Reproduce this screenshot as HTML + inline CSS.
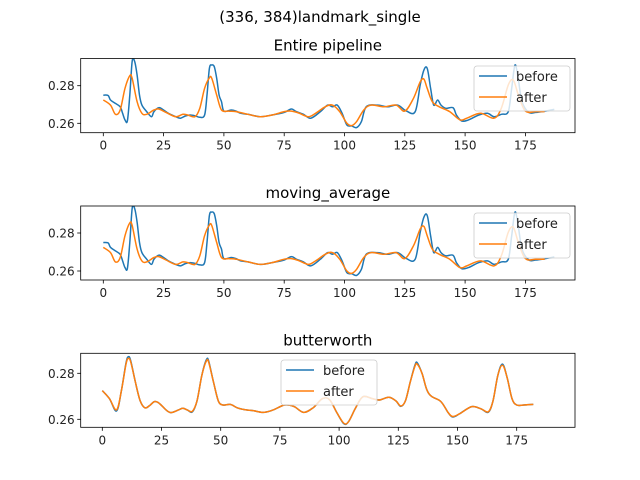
<!DOCTYPE html>
<html><head><meta charset="utf-8"><style>
body{margin:0;background:#fff}
svg{display:block;font-family:"DejaVu Sans","Liberation Sans",sans-serif}
</style></head><body>
<svg id="fig" width="640" height="480" viewBox="0 0 640 480">
<rect width="640" height="480" fill="#fff"/>
<text x="320" y="22" font-size="15" text-anchor="middle">(336, 384)landmark_single</text>
</svg>
<script>
// Entire pipeline / moving_average data
const beforeX = [0,2,3,5,7,8,9,10,11,12,13,14,15,16,18,20,21,23,25,27,30,32,34,36,38,40,42,43,44,45,46,47,48,49,50,53,55,57,60,65,70,75,78,80,83,86,90,93,95,97,99,101,103,105,107,109,113.6,117.9,122,125.7,129.3,131.4,132.9,134.3,135.7,137,138.6,140,142,145,146.4,148.6,151.4,155.7,159.3,162,165,167.9,169.3,170.7,172,173.6,176.4,179.3,182,187];
const beforeY = [.2750,.2748,.2724,.2706,.2688,.2653,.2618,.2614,.2750,.2931,.2928,.2857,.2750,.2697,.2662,.2635,.2662,.2683,.2671,.2653,.2635,.2627,.2639,.2644,.2640,.2632,.2644,.2750,.2892,.2910,.2901,.2839,.2750,.2715,.2665,.2671,.2665,.2653,.2648,.2635,.2644,.2658,.2676,.2662,.2648,.2627,.2662,.2697,.2688,.2697,.2653,.2591,.2586,.2577,.2609,.2688,.2697,.2688,.2697,.2665,.2662,.2804,.2883,.2892,.2786,.2697,.2724,.2697,.2680,.2683,.2644,.2612,.2618,.2644,.2653,.2635,.2648,.2662,.2786,.2910,.2839,.2715,.2658,.2658,.2662,.2674];
const afterX = [0,3,5,7,9,11,12,14,16,18,21,23,26,30,33,35,38,40,42,44,45,47,49,52,55,60,65,70,75,78,81,85,88,92,95,98,101,103,105,108,111,116.4,121.4,125,128.6,131.4,132.9,134.3,136.4,139.3,143.6,147.9,150.7,156.4,162,165,167.9,170,172.1,175,179.3,183];
const afterY = [.2724,.2697,.2648,.2671,.2786,.2853,.2839,.2715,.2653,.2648,.2671,.2676,.2658,.2635,.2648,.2644,.2635,.2680,.2786,.2842,.2839,.2750,.2671,.2665,.2662,.2648,.2635,.2644,.2662,.2665,.2655,.2635,.2653,.2688,.2697,.2662,.2600,.2588,.2609,.2671,.2697,.2688,.2697,.2665,.2733,.2821,.2835,.2786,.2715,.2688,.2662,.2618,.2627,.2653,.2627,.2680,.2804,.2830,.2750,.2665,.2662,.2662];
// butterworth data
const bwX = [0,3,6,8,10,11,12,14,16,18,20,22,24,27,29,32,34,36,38,40,42,44,45,47,49,51,54,57,60,64,68,72,77,81,85,89,93,96,99,102,104,107,110,114,117,121,124,126,128,130,132,133,135,137,139,143,146,148,151,156,160,163,165,167,169,171,173,175,178,182];
const bwBefore = [.2725,.2690,.2636,.2720,.2845,.2872,.2855,.2760,.2680,.2650,.2660,.2677,.2670,.2640,.2629,.2640,.2648,.2640,.2632,.2680,.2790,.2860,.2850,.2760,.2680,.2662,.2665,.2650,.2642,.2637,.2630,.2640,.2662,.2655,.2630,.2650,.2690,.2685,.2630,.2581,.2590,.2650,.2698,.2690,.2684,.2696,.2680,.2656,.2680,.2760,.2835,.2846,.2800,.2730,.2700,.2677,.2630,.2610,.2625,.2655,.2645,.2631,.2680,.2790,.2840,.2780,.2690,.2662,.2662,.2665];
const bwAfter = [.2725,.2690,.2641,.2720,.2840,.2865,.2850,.2760,.2680,.2650,.2660,.2677,.2670,.2640,.2629,.2640,.2648,.2640,.2635,.2680,.2790,.2855,.2845,.2760,.2680,.2662,.2665,.2650,.2642,.2637,.2630,.2640,.2662,.2655,.2630,.2650,.2690,.2685,.2630,.2583,.2590,.2650,.2698,.2690,.2684,.2696,.2680,.2658,.2680,.2760,.2830,.2840,.2800,.2730,.2700,.2677,.2630,.2612,.2625,.2655,.2645,.2633,.2680,.2790,.2835,.2780,.2690,.2662,.2662,.2665];
const xTicks = [0,25,50,75,100,125,150,175];
const yTicks = [0.26,0.28];
const titles = ["Entire pipeline","moving_average","butterworth"];

const NS="http://www.w3.org/2000/svg";
const svg=document.getElementById('fig');
function mk(tag,attrs,parent){const e=document.createElementNS(NS,tag);for(const k in attrs)e.setAttribute(k,attrs[k]);(parent||svg).appendChild(e);return e;}
function smooth(pts){
 let d='M'+pts[0][0].toFixed(1)+','+pts[0][1].toFixed(1);
 for(let i=0;i<pts.length-1;i++){
  const p0=pts[Math.max(0,i-1)],p1=pts[i],p2=pts[i+1],p3=pts[Math.min(pts.length-1,i+2)];
  const c1x=p1[0]+(p2[0]-p0[0])/6,c1y=p1[1]+(p2[1]-p0[1])/6;
  const c2x=p2[0]-(p3[0]-p1[0])/6,c2y=p2[1]-(p3[1]-p1[1])/6;
  d+='C'+c1x.toFixed(1)+','+c1y.toFixed(1)+' '+c2x.toFixed(1)+','+c2y.toFixed(1)+' '+p2[0].toFixed(1)+','+p2[1].toFixed(1);
 }
 return d;
}

const panels=[
 {top:58.5,bottom:132.7,left:80.7,right:575,x0:103.3,ppx:2.412,y26:123.3,y28:85.7,series:[[beforeX,beforeY,'#1f77b4'],[afterX,afterY,'#ff7f0e']],legend:[474,66]},
 {top:206,bottom:280,left:80.7,right:575,x0:103.3,ppx:2.412,y26:271,y28:233,series:[[beforeX,beforeY,'#1f77b4'],[afterX,afterY,'#ff7f0e']],legend:[474,213]},
 {top:353.3,bottom:427.3,left:80.7,right:575,x0:102.3,ppx:2.368,y26:419.3,y28:373.3,series:[[bwX,bwBefore,'#1f77b4'],[bwX,bwAfter,'#ff7f0e']],legend:[281,360]}
];
panels.forEach((p,i)=>{
 const g=mk('g',{});
 
 
 const sx=v=>p.x0+v*p.ppx;
 const sy=v=>p.y26-(v-0.26)/0.02*(p.y26-p.y28);
 const t=mk('text',{x:(p.left+p.right)/2,y:p.top-8,'font-size':15,'text-anchor':'middle'},g);
 t.textContent=titles[i];
 
 
 const clipId='c'+i;
 const cp=mk('clipPath',{id:clipId},g);
 mk('rect',{x:p.left,y:p.top,width:p.right-p.left,height:p.bottom-p.top},cp);
 p.series.forEach((s,j)=>{
  const pts=s[0].map((x,k)=>[sx(x),sy(s[1][k])]);
  const path=mk('path',{d:smooth(pts),fill:'none',stroke:s[2],'stroke-width':1.5,'stroke-linejoin':'round','clip-path':'url(#'+clipId+')'},g);
  
  
 });
 const fr=mk('rect',{x:p.left,y:p.top,width:p.right-p.left,height:p.bottom-p.top,fill:'none',stroke:'#000','stroke-width':0.8},g);
 
 
 xTicks.forEach(v=>{
  const x=sx(v); if(x>p.right)return;
  mk('line',{x1:x,x2:x,y1:p.bottom,y2:p.bottom+3.5,stroke:'#000','stroke-width':0.8},g);
  const tl=mk('text',{x:x,y:p.bottom+17,'font-size':12,'text-anchor':'middle',fill:'#222'},g);
  tl.textContent=v;
  
  
 });
 yTicks.forEach(v=>{
  const y=sy(v);
  mk('line',{x1:p.left,x2:p.left-3.5,y1:y,y2:y,stroke:'#000','stroke-width':0.8},g);
  const tl=mk('text',{x:p.left-6,y:y+4.5,'font-size':12,'text-anchor':'end',fill:'#222'},g);
  tl.textContent=v.toFixed(2);
  
  
 });
 const [lx,ly]=p.legend;
 const lg=mk('g',{},g);
 
 
 mk('rect',{x:lx,y:ly,width:96,height:45,rx:3,fill:'#fff','fill-opacity':0.8,stroke:'#ccc','stroke-width':0.8},lg);
 [['before','#1f77b4'],['after','#ff7f0e']].forEach((e,k)=>{
  const yy=ly+10+k*21;
  mk('line',{x1:lx+5,x2:lx+33,y1:yy,y2:yy,stroke:e[1],'stroke-width':1.5},lg);
  const et=mk('text',{x:lx+42,y:yy+5,'font-size':13,fill:'#222'},lg);
  et.textContent=e[0];
  
  
 });
});
</script>
</body></html>
